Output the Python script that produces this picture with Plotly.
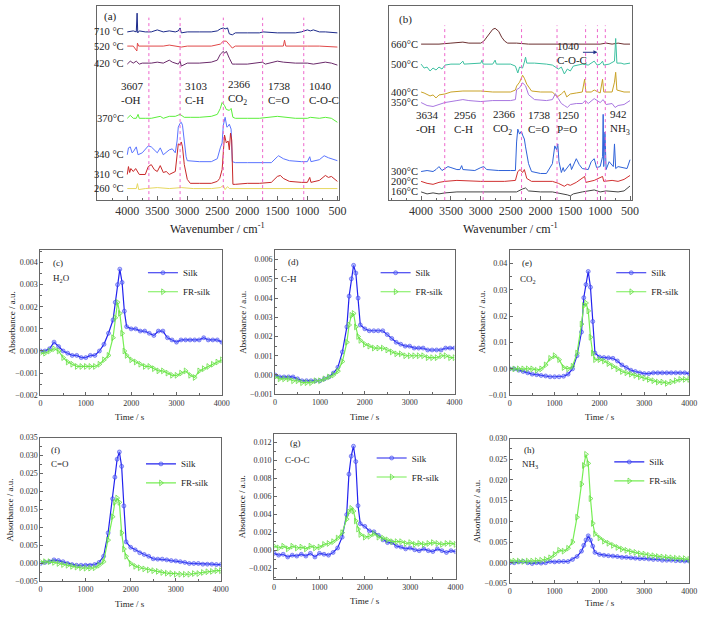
import plotly.graph_objects as go

W, H = 709, 617
FONT = "Liberation Serif"

# ---------------- (a) FTIR spectra of silk (relative heights, stacked) ----------------
A_TEMPS = ["710 °C", "520 °C", "420 °C", "370°C", "340 °C", "310 °C", "260 °C"]
A_OFFSETS = [170.7, 156.3, 139.0, 83.0, 46.0, 26.0, 11.7]
A_COLORS = ["#1c2a8a", "#e04848", "#6a2a6a", "#5aee3a", "#5a74ff", "#c82828", "#e6d860"]
a710 = [(4000,0),(3900,1),(3850,0),(3836,19),(3825,-1),(3800,1),(3700,0),(3600,0),(3500,2),(3450,1),(3400,0),(3300,1),(3200,0),(3150,1),(3120,4),(3100,-1),(3000,0),(2800,0),(2600,0),(2500,1),(2450,3),(2400,4),(2370,3),(2330,4),(2300,-2),(2250,-3),(2200,-1),(2000,-1),(1800,-1),(1738,0),(1500,-1),(1200,-1),(1100,0),(1000,2),(950,1),(900,2),(800,0),(700,0),(500,-1)]
a520 = [(4000,0),(3900,0),(3840,-5),(3830,3),(3810,0),(3600,0),(3400,0),(3300,1),(3200,0),(3100,-1),(3000,0),(2600,0),(2450,2),(2400,5),(2350,5),(2300,1),(2250,-2),(2200,0),(1800,0),(1400,0),(1380,6),(1360,0),(1000,0),(800,0),(500,-1)]
a420 = [(4000,-1),(3950,2),(3900,0),(3850,2),(3800,-1),(3750,0),(3600,0),(3500,1),(3400,0),(3300,3),(3250,1),(3200,0),(3150,-1),(3120,2),(3100,-3),(3000,0),(2800,0),(2600,1),(2500,3),(2450,9),(2400,12),(2380,10),(2350,12),(2300,5),(2270,2),(2250,-1),(2200,-1),(2000,-1),(1750,1),(1700,-1),(1500,2),(1400,1),(1200,0),(1000,0),(900,-1),(700,1),(600,0),(500,-2)]
a370 = [(4000,0),(3950,3),(3900,0),(3850,0),(3820,4),(3800,0),(3700,0),(3600,0),(3450,2),(3400,0),(3300,2),(3200,2),(3120,4),(3050,1),(2950,1),(2800,1),(2600,2),(2500,4),(2450,10),(2420,16),(2380,13),(2350,9),(2300,8),(2270,10),(2240,1),(2200,0),(2000,0),(1800,0),(1500,2),(1200,0),(1000,0),(950,1),(800,0),(700,1),(600,0),(500,-4)]
a340 = [(4000,0),(3980,7),(3950,8),(3920,2),(3900,3),(3850,8),(3820,0),(3750,2),(3650,9),(3600,8),(3500,2),(3450,7),(3400,0),(3300,5),(3250,6),(3200,2),(3170,14),(3150,28),(3120,32),(3100,33),(3080,30),(3050,10),(3020,-2),(3000,-6),(2800,-7),(2600,-7),(2500,-4),(2450,7),(2420,12),(2400,30),(2370,38),(2340,28),(2320,29),(2300,31),(2270,26),(2250,-7),(2200,-8),(2000,-8),(1800,-8),(1600,-8),(1500,-2),(1480,-1),(1400,-4),(1300,-6),(1100,-7),(1000,-7),(960,-2),(940,-7),(800,-5),(720,-1),(650,-3),(500,-6)]
a310 = [(4000,0),(3980,8),(3960,2),(3940,6),(3900,3),(3860,6),(3800,0),(3700,0),(3650,8),(3600,10),(3550,5),(3500,3),(3450,9),(3400,2),(3350,3),(3300,0),(3200,3),(3170,25),(3150,31),(3120,30),(3100,33),(3080,28),(3050,10),(3000,-5),(2950,-9),(2800,-9),(2600,-9),(2500,-7),(2460,-4),(2420,5),(2400,30),(2380,40),(2350,32),(2320,34),(2300,25),(2280,42),(2260,35),(2240,-10),(2200,-10),(2000,-9),(1800,-9),(1600,-8),(1500,-2),(1450,-1),(1400,-4),(1300,-7),(1100,-8),(1000,-8),(960,-3),(940,-8),(800,-6),(700,-1),(650,-3),(600,-2),(500,-7)]
a260 = [(4000,0),(3850,0),(3830,5),(3810,-1),(3700,0),(3500,1),(3300,0),(3100,1),(2900,0),(2600,0),(2450,1),(2400,3),(2370,-1),(2330,2),(2300,0),(2000,0),(1800,0),(1500,0),(1000,0),(500,0)]
A_SPECTRA = [a710, a520, a420, a370, a340, a310, a260]
A_LINES = [3640, 3120, 2400, 1745, 1060]
A_LABELS = ["3607<br>-OH", "3103<br>C-H", "2366<br>CO<sub>2</sub>", "1738<br>C=O", "1040<br>C-O-C"]

# ---------------- (b) FTIR spectra of FR-silk ----------------
B_TEMPS = ["660°C", "500°C", "400°C", "350°C", "300°C", "200°C", "160°C"]
B_OFFSETS = [158.3, 138.0, 109.7, 99.0, 29.0, 19.0, 8.3]
B_COLORS = ["#6b2f2f", "#3cc0a0", "#c9a227", "#a877e0", "#2f62d8", "#d03030", "#444444"]
b660 = [(4000,0),(3700,0),(3500,1),(3300,2),(3200,1),(3000,1),(2950,3),(2900,7),(2850,12),(2800,15),(2760,16),(2700,13),(2650,7),(2600,3),(2550,1),(2400,1),(2200,0),(2000,0),(1500,0),(1000,0),(900,1),(800,0),(700,1),(600,0),(500,0)]
b500 = [(4000,0),(3950,-4),(3900,-3),(3850,-7),(3800,-4),(3750,-6),(3700,-3),(3650,-5),(3600,-1),(3500,0),(3350,0),(3300,3),(3280,0),(3000,1),(2980,4),(2960,0),(2800,0),(2760,4),(2740,0),(2500,0),(2420,-2),(2380,-9),(2350,-3),(2300,-4),(2270,2),(2250,7),(2230,1),(2100,1),(1900,0),(1800,-1),(1700,-5),(1650,-3),(1600,-10),(1550,-5),(1500,-7),(1450,-2),(1300,0),(1200,-1),(1100,3),(1050,-1),(1000,0),(960,3),(940,-1),(850,0),(760,3),(740,26),(720,1),(650,1),(600,0),(500,1)]
b400 = [(4000,0),(3950,-1),(3850,-4),(3800,-3),(3750,-6),(3700,-3),(3600,-2),(3500,0),(3300,1),(3000,1),(2800,0),(2500,0),(2420,2),(2400,6),(2350,10),(2300,17),(2270,14),(2230,8),(2150,1),(2000,0),(1800,0),(1720,-5),(1650,-2),(1600,1),(1560,-5),(1500,-2),(1400,-1),(1300,0),(1260,13),(1240,0),(1150,0),(1100,2),(1000,-1),(960,13),(940,0),(800,0),(760,10),(740,20),(720,2),(600,0),(500,0)]
b350 = [(4000,0),(3900,-3),(3800,-4),(3700,-2),(3600,0),(3400,2),(3300,3),(3200,2),(3000,1),(2800,2),(2500,2),(2420,3),(2400,13),(2350,15),(2300,20),(2250,17),(2200,8),(2100,3),(1900,2),(1800,3),(1750,9),(1700,4),(1650,-1),(1600,-3),(1550,-5),(1500,-2),(1400,-1),(1300,-1),(1250,2),(1200,-1),(1100,4),(1000,0),(950,3),(900,-2),(800,-1),(750,-5),(700,-3),(600,-2),(500,2)]
b300 = [(4000,0),(3900,1),(3800,0),(3750,2),(3700,5),(3650,1),(3600,3),(3550,5),(3500,4),(3400,2),(3350,2),(3320,6),(3300,2),(3100,1),(3000,4),(2950,5),(2900,2),(2700,1),(2500,1),(2420,1),(2400,30),(2380,43),(2350,38),(2320,41),(2300,37),(2270,33),(2250,25),(2200,8),(2150,0),(2000,-2),(1900,-2),(1800,8),(1760,26),(1730,22),(1710,28),(1690,10),(1650,-1),(1620,4),(1600,0),(1500,8),(1480,2),(1400,13),(1350,7),(1300,3),(1200,2),(1150,10),(1100,13),(1060,4),(1000,5),(960,15),(950,58),(940,5),(920,40),(900,2),(850,10),(780,5),(760,28),(740,3),(700,5),(600,4),(550,3),(500,12)]
b200 = [(4000,0),(3900,-2),(3800,-3),(3700,-1),(3600,0),(3400,1),(3000,0),(2600,0),(2420,1),(2380,10),(2340,12),(2300,9),(2270,12),(2230,3),(2150,0),(2000,0),(1800,0),(1700,-2),(1600,-5),(1550,-3),(1500,-4),(1400,-1),(1260,5),(1240,-1),(1100,1),(960,5),(940,0),(800,1),(700,0),(600,2),(500,6)]
b160 = [(4000,0),(3900,-2),(3800,-1),(3700,-2),(3600,-1),(3400,0),(3000,0),(2600,0),(2400,0),(2300,3),(2250,4),(2200,1),(2000,0),(1800,0),(1600,-2),(1550,-3),(1500,-4),(1450,-2),(1300,0),(1100,2),(1000,0),(900,1),(700,0),(600,1),(500,6)]
B_SPECTRA = [b660, b500, b400, b350, b300, b200, b160]
B_LINES = [3604, 2960, 2317, 1723, 1244, 1046, 914]
B_LABELS = ["3634<br>-OH", "2956<br>C-H", "2366<br>CO<sub>2</sub>", "1738<br>C=O", "1250<br>P=O"]
B_LABEL_X = [3604, 2960, 2317, 1723, 1244]

WN_TICKS = [4000, 3500, 3000, 2500, 2000, 1500, 1000, 500]

# ---------------- (c)-(h) evolved gas profiles ----------------
T = [0, 100, 200, 300, 400, 500, 600, 700, 800, 900, 1000, 1100, 1200, 1300, 1400, 1500, 1600,
     1650, 1700, 1750, 1800, 1850, 1900,
     2000, 2100, 2200, 2300, 2400, 2500, 2600, 2700, 2800, 2900, 3000, 3100, 3200, 3300, 3400, 3500, 3600, 3700, 3800, 3900, 4000]

c_silk = [0.0000, 0.0000, 0.0001, 0.0004, 0.0002, 0.0000, -0.0001, -0.0002, -0.0002, -0.0003, -0.0003, -0.0002, -0.0002, 0.0000, 0.0003, 0.0008, 0.0014,
          0.0022, 0.0030, 0.0037, 0.0031, 0.0018, 0.0011,
          0.0010, 0.0010, 0.0009, 0.0009, 0.0008, 0.0007, 0.0009, 0.0009, 0.0006, 0.0005, 0.0004, 0.0005, 0.0005, 0.0005, 0.0005, 0.0005, 0.0006, 0.0005, 0.0005, 0.0005, 0.0004]
c_fr = [-0.0001, -0.0001, 0.0000, 0.0001, 0.0000, -0.0003, -0.0005, -0.0006, -0.0007, -0.0007, -0.0007, -0.0007, -0.0007, -0.0006, -0.0004, -0.0002, 0.0006,
        0.0015, 0.0022, 0.0017, 0.0008, 0.0000, -0.0002,
        -0.0004, -0.0005, -0.0006, -0.0007, -0.0007, -0.0008, -0.0009, -0.0009, -0.0010, -0.0011, -0.0011, -0.0010, -0.0009, -0.0011, -0.0012, -0.0009, -0.0008, -0.0007, -0.0006, -0.0005, -0.0004]

d_silk = [0.0000, -0.0001, -0.0001, -0.0001, -0.0001, -0.0002, -0.0003, -0.0003, -0.0003, -0.0003, -0.0003, -0.0002, -0.0001, 0.0001, 0.0004, 0.0012, 0.0025,
          0.0041, 0.0050, 0.0057, 0.0053, 0.0040, 0.0026,
          0.0024, 0.0023, 0.0023, 0.0023, 0.0023, 0.0021, 0.0019, 0.0017, 0.0016, 0.0015, 0.0015, 0.0014, 0.0014, 0.0014, 0.0013, 0.0013, 0.0013, 0.0013, 0.0014, 0.0014, 0.0014]
d_fr = [-0.0001, -0.0002, -0.0002, -0.0002, -0.0003, -0.0003, -0.0004, -0.0004, -0.0004, -0.0003, -0.0003, -0.0002, -0.0001, 0.0000, 0.0002, 0.0007, 0.0017,
        0.0026, 0.0031, 0.0032, 0.0025, 0.0020, 0.0018,
        0.0016, 0.0015, 0.0014, 0.0014, 0.0014, 0.0013, 0.0012, 0.0011, 0.0011, 0.0010, 0.0010, 0.0010, 0.0010, 0.0010, 0.0009, 0.0009, 0.0009, 0.0010, 0.0010, 0.0009, 0.0009]

e_silk = [0.0000, 0.0000, -0.0005, -0.0010, -0.0015, -0.0020, -0.0022, -0.0025, -0.0027, -0.0030, -0.0030, -0.0030, -0.0028, -0.0020, 0.0000, 0.0050, 0.0140,
          0.0270, 0.0320, 0.0370, 0.0310, 0.0180, 0.0060,
          0.0045, 0.0043, 0.0042, 0.0040, 0.0030, 0.0015, 0.0005, -0.0005, -0.0010, -0.0015, -0.0018, -0.0018, -0.0015, -0.0015, -0.0015, -0.0015, -0.0015, -0.0015, -0.0015, -0.0015, -0.0018]
e_fr = [0.0000, 0.0000, 0.0000, 0.0000, 0.0000, 0.0000, -0.0005, 0.0000, 0.0015, 0.0040, 0.0050, 0.0035, 0.0005, 0.0000, 0.0010, 0.0060, 0.0170,
        0.0240, 0.0250, 0.0220, 0.0120, 0.0060, 0.0035,
        0.0035, 0.0030, 0.0020, 0.0010, 0.0000, -0.0010, -0.0015, -0.0020, -0.0025, -0.0030, -0.0035, -0.0040, -0.0045, -0.0050, -0.0050, -0.0055, -0.0050, -0.0045, -0.0040, -0.0040, -0.0040]

f_silk = [0.0000, 0.0003, 0.0005, 0.0010, 0.0008, 0.0005, 0.0000, -0.0003, -0.0005, -0.0005, -0.0005, -0.0005, -0.0003, 0.0003, 0.0020, 0.0085, 0.0180,
          0.0240, 0.0290, 0.0310, 0.0270, 0.0160, 0.0060,
          0.0045, 0.0038, 0.0030, 0.0025, 0.0020, 0.0013, 0.0012, 0.0012, 0.0010, 0.0008, 0.0007, 0.0005, 0.0003, 0.0000, 0.0000, 0.0000, -0.0002, -0.0002, -0.0002, -0.0003, -0.0003]
f_fr = [0.0005, 0.0005, 0.0005, 0.0003, 0.0000, -0.0003, -0.0005, -0.0008, -0.0010, -0.0012, -0.0013, -0.0013, -0.0012, -0.0005, 0.0005, 0.0065, 0.0130,
        0.0170, 0.0182, 0.0170, 0.0085, 0.0040, 0.0020,
        0.0000, -0.0008, -0.0012, -0.0015, -0.0018, -0.0020, -0.0022, -0.0025, -0.0027, -0.0028, -0.0030, -0.0030, -0.0030, -0.0030, -0.0028, -0.0028, -0.0025, -0.0023, -0.0022, -0.0020, -0.0020]

g_silk = [-0.0003, -0.0005, -0.0004, -0.0007, -0.0005, -0.0006, -0.0004, -0.0006, -0.0003, -0.0007, -0.0003, -0.0004, -0.0005, -0.0002, 0.0003, 0.0015, 0.0040,
          0.0085, 0.0105, 0.0116, 0.0099, 0.0050, 0.0030,
          0.0027, 0.0022, 0.0021, 0.0017, 0.0012, 0.0009, 0.0009, 0.0005, 0.0004, 0.0002, 0.0003, 0.0001, 0.0000, 0.0002, 0.0000, -0.0001, 0.0002, 0.0000, -0.0002, 0.0000, -0.0001]
g_fr = [0.0005, 0.0003, 0.0005, 0.0002, 0.0005, 0.0003, 0.0004, 0.0002, 0.0005, 0.0003, 0.0004, 0.0007, 0.0008, 0.0010, 0.0014, 0.0020, 0.0035,
        0.0043, 0.0047, 0.0044, 0.0033, 0.0024, 0.0018,
        0.0015, 0.0016, 0.0019, 0.0015, 0.0014, 0.0012, 0.0010, 0.0010, 0.0010, 0.0008, 0.0009, 0.0007, 0.0008, 0.0007, 0.0008, 0.0009, 0.0008, 0.0007, 0.0008, 0.0008, 0.0007]

h_silk = [0.0000, 0.0000, 0.0002, 0.0003, 0.0000, -0.0002, 0.0000, -0.0001, 0.0000, 0.0003, 0.0002, 0.0003, 0.0003, 0.0003, 0.0008, 0.0015, 0.0028,
          0.0042, 0.0055, 0.0065, 0.0055, 0.0040, 0.0025,
          0.0020, 0.0018, 0.0017, 0.0016, 0.0015, 0.0013, 0.0013, 0.0012, 0.0011, 0.0010, 0.0010, 0.0009, 0.0008, 0.0008, 0.0006, 0.0006, 0.0006, 0.0005, 0.0005, 0.0004, 0.0004]
h_fr = [0.0005, 0.0004, 0.0004, 0.0003, 0.0004, 0.0004, 0.0005, 0.0006, 0.0008, 0.0012, 0.0020, 0.0030, 0.0028, 0.0035, 0.0050, 0.0110, 0.0190,
        0.0235, 0.0262, 0.0240, 0.0155, 0.0095, 0.0070,
        0.0060, 0.0052, 0.0047, 0.0042, 0.0037, 0.0033, 0.0030, 0.0027, 0.0025, 0.0022, 0.0021, 0.0018, 0.0017, 0.0015, 0.0014, 0.0013, 0.0012, 0.0011, 0.0010, 0.0010, 0.0008]

PANELS = [
    # letter, gas, silk, fr, yrange, dtick, fmt
    ("(c)", "H<sub>2</sub>O", c_silk, c_fr, [-0.002, 0.00455], 0.001, ".3f"),
    ("(d)", "C-H", d_silk, d_fr, [-0.001, 0.00648], 0.001, ".3f"),
    ("(e)", "CO<sub>2</sub>", e_silk, e_fr, [-0.01, 0.045], 0.01, ".2f"),
    ("(f)", "C=O", f_silk, f_fr, [-0.005, 0.035], 0.005, ".3f"),
    ("(g)", "C-O-C", g_silk, g_fr, [-0.0032, 0.013], 0.002, ".3f"),
    ("(h)", "NH<sub>3</sub>", h_silk, h_fr, [-0.005, 0.030], 0.005, ".3f"),
]
for p in PANELS:
    assert len(p[2]) == len(T) and len(p[3]) == len(T)

# ---------------- layout geometry (pixels) ----------------
BOX = {
    1: (96, 342, 2, 199), 2: (393, 639, 2, 199),
    3: (39, 223, 250, 397), 4: (277, 459, 250, 396), 5: (515, 697, 250, 397),
    6: (39, 222, 440, 586), 7: (276, 460, 436, 584), 8: (515, 697, 441, 588),
}
def px(x): return x / W
def py(y): return 1 - y / H

fig = go.Figure()
layout = dict(width=W, height=H, margin=dict(l=0, r=0, t=0, b=0), autosize=False,
              paper_bgcolor="white", plot_bgcolor="white",
              font=dict(family=FONT, color="#222"), showlegend=True)
shapes, anns = [], []

AXC = "#666"
for k, (x0, x1, y0, y1) in BOX.items():
    sx = "" if k == 1 else str(k)
    xa = dict(domain=[px(x0), px(x1)], anchor="y" + sx, showline=True, mirror=True, linecolor=AXC,
              linewidth=1, showgrid=False, zeroline=False, ticks="inside", tickcolor=AXC,
              ticklabeloverflow="allow")
    ya = dict(domain=[py(y1), py(y0)], anchor="x" + sx, showline=True, mirror=True, linecolor=AXC,
              linewidth=1, showgrid=False, zeroline=False, ticklabeloverflow="allow")
    if k <= 2:
        xa.update(range=[4510, 470] if k == 1 else [4530, 467], tickvals=WN_TICKS, ticklen=4,
                  tickfont=dict(size=12, family=FONT, color="#333"),
                  minor=dict(dtick=250, ticks="inside", ticklen=2, tickcolor=AXC, tick0=500))
        ya.update(range=[0, 197], showticklabels=False, ticks="")
    else:
        p = PANELS[k - 3]
        xa.update(range=[0, 4000], dtick=1000, ticklen=3, tickfont=dict(size=8, family=FONT, color="#333"),
                  minor=dict(dtick=500, ticks="inside", ticklen=2, tickcolor=AXC))
        ya.update(range=p[4], dtick=p[5], tick0=0, tickformat=p[6], ticks="inside", ticklen=3, tickcolor=AXC,
                  tickfont=dict(size=8, family=FONT, color="#333"),
                  minor=dict(dtick=p[5] / 2, ticks="inside", ticklen=2, tickcolor=AXC))
    layout["xaxis" + sx] = xa
    layout["yaxis" + sx] = ya

# spectra traces
def add_spectra(spectra, offsets, colors, temps, xr, yr):
    for sp, off, col, lab in zip(spectra, offsets, colors, temps):
        fig.add_trace(go.Scatter(x=[w for w, _ in sp], y=[off + v for _, v in sp], mode="lines",
                                 line=dict(color=col, width=1), xaxis=xr, yaxis=yr, showlegend=False,
                                 hoverinfo="skip"))
        anns.append(dict(x=4000, y=off, xref=xr, yref=yr, text=lab, showarrow=False, xanchor="right",
                         yanchor="middle", xshift=-1, font=dict(size=10.5, family=FONT, color="#222")))

add_spectra(A_SPECTRA, A_OFFSETS, A_COLORS, A_TEMPS, "x", "y")
add_spectra(B_SPECTRA, B_OFFSETS, B_COLORS, B_TEMPS, "x2", "y2")

for xv in A_LINES:
    shapes.append(dict(type="line", xref="x", yref="y domain", x0=xv, x1=xv, y0=0, y1=0.94,
                       line=dict(color="#ee66cc", width=1, dash="dot")))
for xv in B_LINES:
    shapes.append(dict(type="line", xref="x2", yref="y2 domain", x0=xv, x1=xv, y0=0, y1=0.9,
                       line=dict(color="#ee66cc", width=1, dash="dot")))

# (a) peak labels
for i, (xv, lab) in enumerate(zip(A_LINES, A_LABELS)):
    anns.append(dict(x=xv, y=py(90), xref="x", yref="paper", text=lab, showarrow=False,
                     xanchor="right" if i == 0 else "left", xshift=-3 if i == 0 else 3, align="left",
                     yanchor="middle", font=dict(size=11, family=FONT, color="#222")))
# (b) peak labels
for xv, lab in zip(B_LABEL_X, B_LABELS):
    anns.append(dict(x=xv, y=py(120), xref="x2", yref="paper", text=lab, showarrow=False,
                     xanchor="right", xshift=-4, align="left", yanchor="middle",
                     font=dict(size=11, family=FONT, color="#222")))
anns.append(dict(x=B_LINES[-1], y=py(120), xref="x2", yref="paper", text="942<br>NH<sub>3</sub>",
                 showarrow=False, xanchor="left", xshift=3, align="left", yanchor="middle",
                 font=dict(size=11, family=FONT, color="#222")))
anns.append(dict(x=px(561), y=py(50), xref="paper", yref="paper", text="1040<br>C-O-C", showarrow=False,
                 xanchor="left", align="left", yanchor="middle", font=dict(size=11, family=FONT, color="#222")))
anns.append(dict(x=B_LINES[5], y=py(49), xref="x2", yref="paper", ax=-16, ay=0, text="", showarrow=True,
                 arrowhead=2, arrowsize=0.8, arrowwidth=1, arrowcolor="#223388"))

anns.append(dict(x=px(101), y=py(13), xref="paper", yref="paper", text="(a)", showarrow=False,
                 xanchor="left", yanchor="middle", font=dict(size=11, family=FONT)))
anns.append(dict(x=px(401), y=py(16), xref="paper", yref="paper", text="(b)", showarrow=False,
                 xanchor="left", yanchor="middle", font=dict(size=11, family=FONT)))
for xc in (219, 516):
    anns.append(dict(x=px(xc), y=py(228), xref="paper", yref="paper", text="Wavenumber / cm<sup>-1</sup>",
                     showarrow=False, xanchor="center", yanchor="middle", font=dict(size=12, family=FONT)))

# time-profile traces, legends and labels
SILK_C, FR_C = "#2222ee", "#77ee55"
LEG_POS = [(217, 258), (453, 258), (692, 258), (215, 452), (449, 446), (690, 450)]
LETTER_POS = [(50, 263, 50, 279), (288, 262, 281, 279), (525, 263, 523, 280),
              (48, 453, 48, 467), (290, 445, 285, 463), (527, 453, 525, 467)]
ABS_POS = [(10, 323), (245, 323), (487, 323), (8, 513), (243, 510), (482, 515)]
TIME_POS = [(130, 419), (368, 419), (607, 419), (130, 609), (368, 606), (607, 608)]
for i, p in enumerate(PANELS):
    k = i + 3
    xr, yr = "x" + str(k), "y" + str(k)
    leg = "legend" if i == 0 else "legend" + str(i + 1)
    fig.add_trace(go.Scatter(x=T, y=p[2], mode="lines+markers", name="Silk", xaxis=xr, yaxis=yr, legend=leg,
                             line=dict(color=SILK_C, width=1.2),
                             marker=dict(symbol="circle", size=4, color="rgba(110,130,255,0.5)",
                                         line=dict(color="rgba(40,40,230,0.8)", width=0.6))))
    fig.add_trace(go.Scatter(x=T, y=p[3], mode="lines+markers", name="FR-silk", xaxis=xr, yaxis=yr, legend=leg,
                             line=dict(color=FR_C, width=1.2),
                             marker=dict(symbol="triangle-right-open", size=5, color="#66dd44",
                                         line=dict(width=0.8))))
    lx, ly = LEG_POS[i]
    layout[leg] = dict(x=px(lx), y=py(ly), xanchor="right", yanchor="top", bgcolor="rgba(0,0,0,0)",
                       font=dict(size=9, family=FONT, color="#222"), tracegroupgap=0, itemwidth=30)
    a1x, a1y, a2x, a2y = LETTER_POS[i]
    anns.append(dict(x=px(a1x), y=py(a1y), xref="paper", yref="paper", text=p[0], showarrow=False,
                     xanchor="left", yanchor="middle", font=dict(size=9, family=FONT)))
    anns.append(dict(x=px(a2x), y=py(a2y), xref="paper", yref="paper", text=p[1], showarrow=False,
                     xanchor="left", yanchor="middle", font=dict(size=9, family=FONT)))
    bx, by = ABS_POS[i]
    anns.append(dict(x=px(bx), y=py(by), xref="paper", yref="paper", text="Absorbance / a.u.", showarrow=False,
                     textangle=-90, xanchor="center", yanchor="middle", font=dict(size=9, family=FONT)))
    tx, ty = TIME_POS[i]
    anns.append(dict(x=px(tx), y=py(ty), xref="paper", yref="paper", text="Time / s", showarrow=False,
                     xanchor="center", yanchor="middle", font=dict(size=9, family=FONT)))

layout["shapes"] = shapes
layout["annotations"] = anns
fig.update_layout(**layout)
fig.write_html("out.html", config={"displayModeBar": False},
               post_script="document.body.style.margin='0';document.body.style.overflow='hidden';")
